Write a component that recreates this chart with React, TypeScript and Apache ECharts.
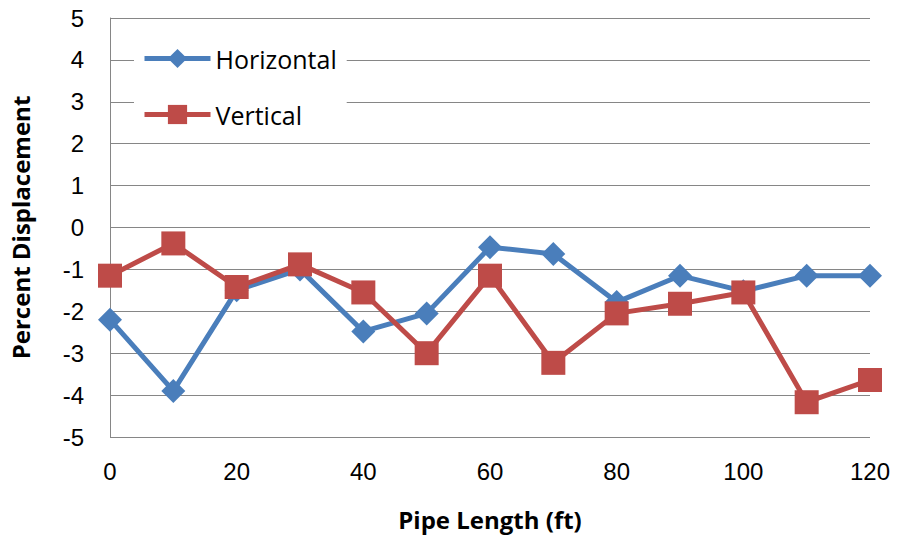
import React, { useEffect, useRef } from "react";
import * as echarts from "echarts";

const pipeLength = [0, 10, 20, 30, 40, 50, 60, 70, 80, 90, 100, 110, 120];
const horizontal = [-2.2, -3.9, -1.5, -1.0, -2.48, -2.05, -0.47, -0.63, -1.78, -1.15, -1.52, -1.15, -1.15];
const vertical = [-1.15, -0.38, -1.42, -0.88, -1.55, -3.0, -1.15, -3.23, -2.05, -1.82, -1.55, -4.17, -3.64];
const seriesNames = ["Horizontal", "Vertical"];
const xTitle = "Pipe Length (ft)";
const yTitle = "Percent Displacement";

const FONT = "'Liberation Sans', Arial, sans-serif";
const FONT2 = "'Open Sans', 'Liberation Sans', sans-serif";
const BLUE = "#4A7EBB";
const RED = "#BE4B48";

export default function App() {
  const ref = useRef<HTMLDivElement>(null);
  useEffect(() => {
    if (!ref.current) return;
    const chart = echarts.init(ref.current, undefined, { renderer: "svg" });
    const toPairs = (arr: number[]) => pipeLength.map((x, i) => [x, arr[i]]);
    chart.setOption({
      animation: false,
      backgroundColor: "#ffffff",
      grid: { left: 108, right: 28, top: 18, bottom: 109 },
      legend: {
        orient: "vertical",
        left: 134,
        top: 38,
        itemWidth: 66,
        itemHeight: 24,
        itemGap: 31,
        padding: [8, 10, 8, 8],
        backgroundColor: "#ffffff",
        textStyle: { fontFamily: FONT2, fontSize: 25, color: "#000000" },
        data: [
          { name: seriesNames[0], lineStyle: { width: 5, color: BLUE } },
          { name: seriesNames[1], lineStyle: { width: 5, color: RED } },
        ],
      },
      xAxis: {
        type: "value",
        min: 0,
        max: 120,
        interval: 20,
        axisLine: { show: false },
        axisTick: { show: false },
        splitLine: { show: false },
        axisLabel: { fontFamily: FONT, fontSize: 24, color: "#000000", margin: 22 },
        name: xTitle,
        nameLocation: "middle",
        nameGap: 70,
        nameTextStyle: { fontFamily: FONT2, fontSize: 24, fontWeight: "bold", color: "#000000" },
      },
      yAxis: {
        type: "value",
        min: -5,
        max: 5,
        interval: 1,
        axisLine: { show: true, onZero: false, lineStyle: { color: "#868686", width: 1 } },
        axisTick: { show: false },
        splitLine: { show: true, lineStyle: { color: "#868686", width: 1 } },
        axisLabel: { fontFamily: FONT, fontSize: 24, color: "#000000", margin: 26 },
        name: yTitle,
        nameLocation: "middle",
        nameGap: 78,
        nameRotate: 90,
        nameTextStyle: { fontFamily: FONT2, fontSize: 24, fontWeight: "bold", color: "#000000" },
      },
      series: [
        {
          name: seriesNames[0],
          type: "line",
          data: toPairs(horizontal),
          symbol: "diamond",
          symbolSize: 24,
          color: BLUE,
          lineStyle: { width: 5, color: BLUE },
          itemStyle: { color: BLUE },
          z: 2,
        },
        {
          name: seriesNames[1],
          type: "line",
          data: toPairs(vertical),
          symbol: "rect",
          symbolSize: 24,
          color: RED,
          lineStyle: { width: 5, color: RED },
          itemStyle: { color: RED },
          z: 3,
        },
      ],
    });
    return () => chart.dispose();
  }, []);
  return <div ref={ref} style={{ width: 898, height: 546, margin: -8 }} />;
}
